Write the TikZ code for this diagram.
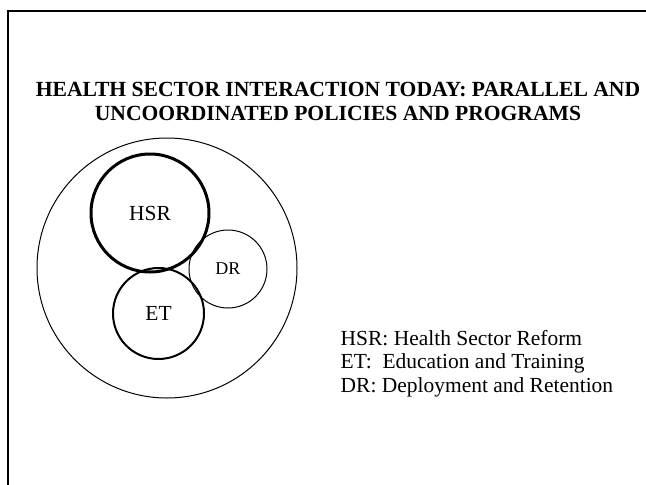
\documentclass[tikz,border=0pt]{standalone}
\usepackage{fontspec}
\setmainfont{Liberation Serif}
\usepackage{tikz}

\begin{document}
\begin{tikzpicture}[x=0.75pt,y=-0.75pt,
    ring/.style={circle,draw=black,line width=0.75pt,inner sep=0pt},
    lbl/.style={font=\fontsize{16.1}{17.3}\selectfont}]
    \useasboundingbox (0,0) rectangle (646,485);
    \coordinate (fa) at (8,485);
    \coordinate (fb) at (8,11);
    \coordinate (fc) at (646,11);
    \draw[line width=1.2pt] (fa) -- (fb) -- (fc);
    \node[align=center,anchor=base,font=\fontsize{16.2}{17.3}\selectfont\bfseries] (title) at (338,120)
        {HEALTH SECTOR INTERACTION TODAY: PARALLEL AND\\UNCOORDINATED POLICIES AND PROGRAMS};
    \node[ring,minimum size=195pt] (all) at (167,268) {};
    \node[ring,minimum size=58.5pt,font=\fontsize{13.5}{15}\selectfont] (dr) at (228,269) {DR};
    \node[ring,line width=1.5pt,minimum size=68.25pt,lbl] (et) at (158.5,313.5) {ET};
    \node[ring,line width=2.25pt,minimum size=88.5pt,lbl] (hsr) at (150,213) {HSR};
    \node[lbl,align=left,anchor=base west] (key) at (336,392)
        {HSR: Health Sector Reform\\ET:~ Education and Training\\DR: Deployment and Retention};
\end{tikzpicture}
\end{document}
